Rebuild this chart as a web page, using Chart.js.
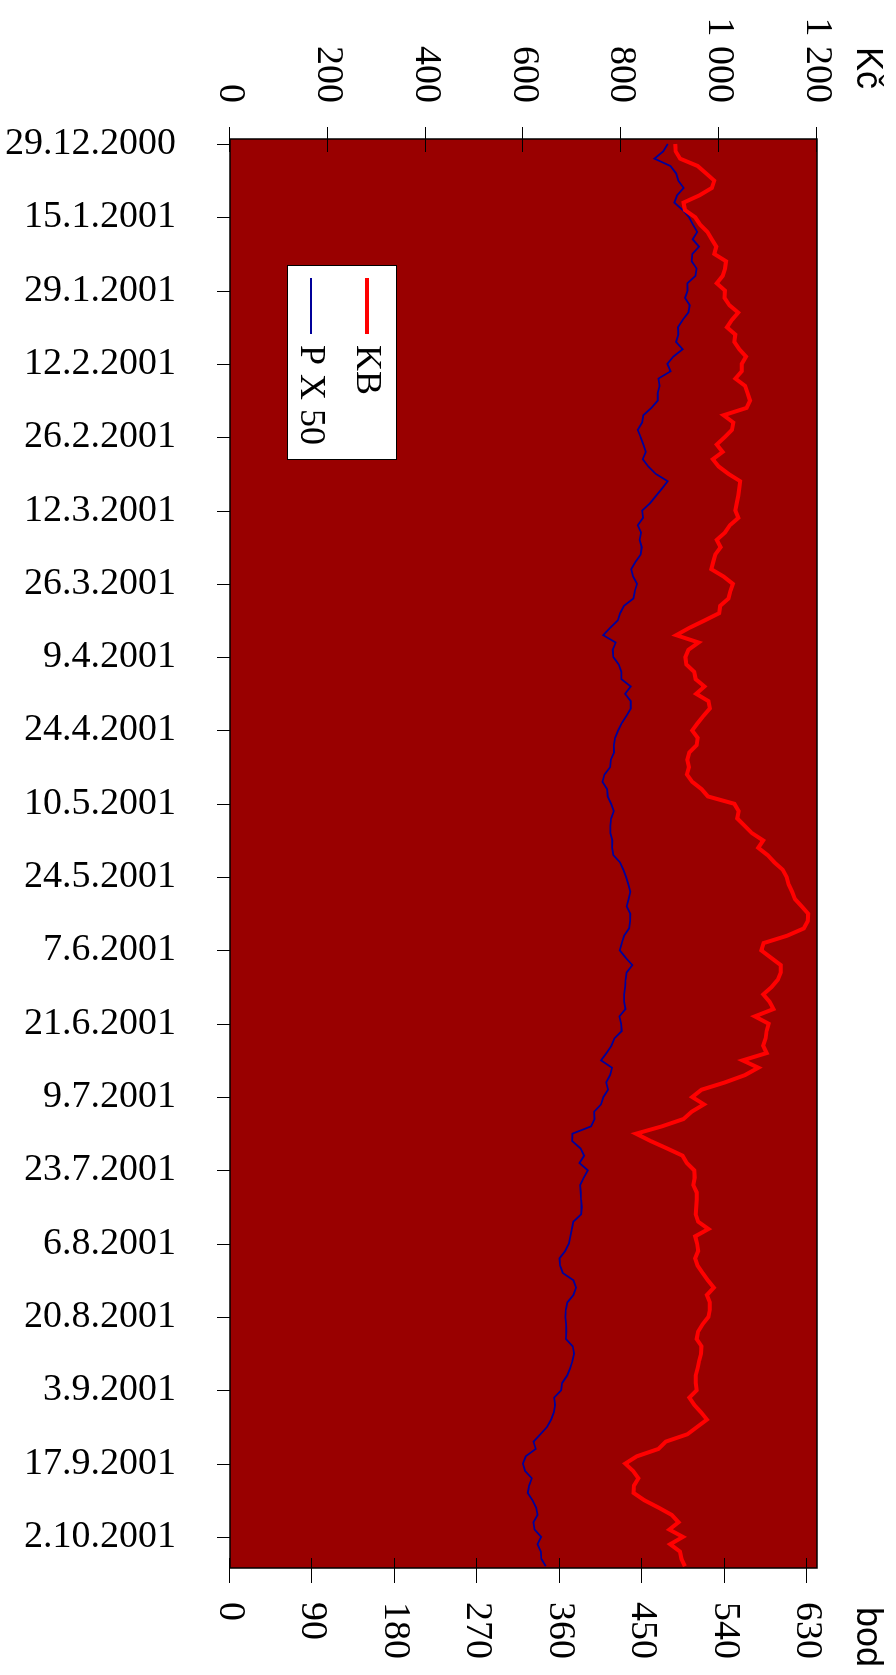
<!DOCTYPE html>
<html lang="cs">
<head>
<meta charset="UTF-8">
<title>KB a PX 50</title>
<script src="https://cdn.jsdelivr.net/npm/chart.js@4.4.1/dist/chart.umd.min.js"></script>
<style>
  html, body { margin: 0; padding: 0; background: #fff; overflow: hidden; }
  body { width: 896px; height: 1675px; position: relative; }
  /* chart is laid out landscape, then turned a quarter turn clockwise */
  #wrap {
    position: absolute; left: 0; top: 0;
    width: 1675px; height: 896px;
    transform-origin: 0 0;
    transform: translate(896px, 0) rotate(90deg);
  }
  canvas { display: block; }
</style>
</head>
<body>
<div id="wrap"><canvas id="chart" width="1675" height="896"></canvas></div>

<script>
  // date under every 10th trading day
  const tickLabels = ['29.12.2000', '15.1.2001', '29.1.2001', '12.2.2001', '26.2.2001',
    '12.3.2001', '26.3.2001', '9.4.2001', '24.4.2001', '10.5.2001', '24.5.2001',
    '7.6.2001', '21.6.2001', '9.7.2001', '23.7.2001', '6.8.2001', '20.8.2001',
    '3.9.2001', '17.9.2001', '2.10.2001'];

  // KB share price, Kc
  const kb = [
    910, 911, 920, 956, 973, 990, 985, 960, 927, 930, 951, 961, 976, 985, 994, 990,
    1014, 1012, 1007, 995, 1012, 1011, 1021, 1039, 1026, 1016, 1033, 1031, 1041, 1055, 1046, 1046,
    1033, 1053, 1058, 1063, 1056, 1009, 1029, 1026, 1011, 995, 1007, 987, 999, 1019, 1043, 1041,
    1039, 1036, 1033, 1039, 1022, 1012, 995, 1003, 992, 988, 984, 1009, 1028, 1023, 1019, 1002,
    1000, 970, 939, 912, 958, 937, 931, 933, 949, 952, 970, 953, 978, 981, 968, 956,
    945, 956, 954, 939, 935, 938, 934, 945, 964, 977, 1031, 1040, 1037, 1052, 1067, 1090,
    1080, 1099, 1113, 1130, 1138, 1142, 1149, 1155, 1169, 1182, 1181, 1173, 1139, 1091, 1086, 1106,
    1126, 1126, 1120, 1107, 1090, 1103, 1111, 1073, 1101, 1097, 1095, 1090, 1097, 1048, 1080, 1053,
    1012, 964, 945, 969, 944, 927, 883, 830, 860, 893, 925, 934, 949, 950, 947, 954,
    954, 953, 952, 957, 978, 951, 955, 957, 951, 956, 966, 977, 989, 975, 981, 981,
    978, 966, 957, 954, 964, 963, 959, 956, 952, 952, 954, 939, 949, 963, 975, 955,
    935, 891, 876, 832, 808, 824, 835, 826, 825, 847, 876, 903, 917, 898, 926, 900,
    920, 923, 930
  ];

  // PX 50 index, points
  const px50 = [
    478.0, 473.2, 463.4, 480.9, 487.1, 489.6, 495.4, 488.2, 485.3, 494.3, 501.3, 505.6, 510.3, 505.3, 512.2, 504.9,
    504.2, 509.6, 508.2, 499.4, 499.8, 496.9, 502.0, 500.5, 494.3, 489.2, 489.6, 487.1, 494.3, 484.2, 477.6, 481.2,
    467.8, 469.2, 467.1, 467.1, 460.2, 451.4, 450.0, 445.2, 448.5, 451.4, 454.0, 450.7, 456.9, 464.9, 478.0, 471.8,
    465.2, 458.7, 450.0, 451.1, 445.2, 448.9, 447.4, 449.6, 448.5, 442.7, 438.0, 440.2, 444.5, 442.0, 440.5, 430.3,
    426.0, 423.4, 415.1, 407.4, 421.2, 418.0, 418.7, 424.5, 427.4, 427.4, 437.6, 431.4, 437.6, 437.6, 432.9, 427.8,
    423.8, 420.5, 419.1, 419.4, 415.8, 415.1, 408.9, 406.7, 411.8, 412.5, 416.1, 419.1, 416.1, 415.4, 415.4, 417.6,
    417.2, 418.7, 426.0, 429.6, 432.5, 435.1, 437.2, 435.4, 433.2, 437.2, 436.9, 435.8, 430.3, 427.8, 425.6, 432.1,
    439.4, 433.2, 432.1, 431.4, 430.3, 430.3, 431.8, 425.2, 427.1, 427.8, 419.8, 416.5, 411.1, 405.2, 417.2, 415.1,
    410.7, 412.9, 407.8, 405.2, 397.6, 398.0, 394.3, 374.0, 373.6, 382.7, 386.7, 381.6, 390.7, 386.3, 382.3, 383.0,
    383.4, 384.1, 383.4, 375.0, 373.2, 371.8, 370.0, 366.0, 359.8, 360.5, 363.4, 375.0, 377.9, 375.0, 368.5, 366.7,
    366.3, 367.0, 367.4, 366.7, 374.3, 375.8, 374.0, 371.4, 368.1, 362.7, 361.6, 354.0, 355.1, 353.6, 350.7, 346.3,
    339.0, 331.4, 333.9, 323.0, 319.8, 322.3, 329.6, 326.7, 325.2, 330.3, 334.3, 335.8, 331.4, 332.5, 339.8, 335.8,
    339.4, 340.1, 344.9
  ];

  const kcTicks = [0, 200, 400, 600, 800, 1000, 1200];
  const bodTicks = [0, 90, 180, 270, 360, 450, 540, 630];

  const serif = 'Liberation Serif';
  const fmt = v => String(v).replace(/\B(?=(\d{3})+(?!\d))/g, ' ');
  const toPoints = arr => arr.map((v, i) => ({ x: i, y: v }));

  // dark red plot area, frame, tick marks, axis units and the boxed legend
  const frame = {
    id: 'frame',
    beforeDraw(chart) {
      const { ctx, chartArea: a } = chart;
      ctx.save();
      ctx.fillStyle = '#990000';
      ctx.fillRect(a.left, a.top, a.right - a.left, a.bottom - a.top);
      ctx.restore();
    },
    afterDraw(chart) {
      const { ctx, chartArea: a, scales } = chart;
      ctx.save();
      ctx.strokeStyle = '#000';
      ctx.lineWidth = 1.5;
      ctx.strokeRect(a.left, a.top, a.right - a.left, a.bottom - a.top);

      ctx.lineWidth = 1;
      ctx.beginPath();
      scales.y.ticks.forEach(t => {
        const p = Math.round(scales.y.getPixelForValue(t.value)) + 0.5;
        ctx.moveTo(a.left - 12, p); ctx.lineTo(a.left + 13, p);
      });
      scales.y1.ticks.forEach(t => {
        const p = Math.round(scales.y1.getPixelForValue(t.value)) + 0.5;
        ctx.moveTo(a.right - 10, p); ctx.lineTo(a.right + 15, p);
      });
      scales.x.ticks.forEach(t => {
        const p = Math.round(scales.x.getPixelForValue(t.value)) + 0.5;
        ctx.moveTo(p, a.bottom); ctx.lineTo(p, a.bottom + 13);
      });
      ctx.stroke();

      // axis units
      ctx.fillStyle = '#000';
      ctx.font = '36px "Liberation Sans"';
      ctx.textAlign = 'left';
      ctx.textBaseline = 'alphabetic';
      ctx.fillText('Kč', 47, 39);
      ctx.fillText('bod', 1607, 39);

      // legend
      const bx = a.left + 126, by = a.bottom - 167, bw = 194, bh = 109;
      ctx.fillStyle = '#fff';
      ctx.fillRect(bx, by, bw, bh);
      ctx.strokeStyle = '#000';
      ctx.lineWidth = 1;
      ctx.strokeRect(bx + 0.5, by + 0.5, bw, bh);
      ctx.font = '36px "' + serif + '"';
      ctx.textBaseline = 'middle';
      chart.data.datasets.forEach((ds, i) => {
        const y = by + 30 + i * 56;
        ctx.strokeStyle = ds.borderColor;
        ctx.lineWidth = ds.borderWidth;
        ctx.beginPath();
        ctx.moveTo(bx + 13, y); ctx.lineTo(bx + 69, y);
        ctx.stroke();
        ctx.fillStyle = '#000';
        ctx.fillText(ds.label, bx + 80, y + 1);
      });
      ctx.restore();
    }
  };

  new Chart(document.getElementById('chart'), {
    type: 'line',
    data: {
      datasets: [
        {
          label: 'KB',
          data: toPoints(kb),
          yAxisID: 'y',
          borderColor: '#ff0000',
          borderWidth: 4,
          pointRadius: 0,
          tension: 0
        },
        {
          label: 'P X 50',
          data: toPoints(px50),
          yAxisID: 'y1',
          borderColor: '#000099',
          borderWidth: 1.8,
          pointRadius: 0,
          tension: 0
        }
      ]
    },
    options: {
      responsive: false,
      animation: false,
      layout: { padding: { top: 79 } },
      plugins: { legend: { display: false }, tooltip: { enabled: false } },
      scales: {
        x: {
          type: 'linear',
          min: -0.68,
          max: 194.24,
          afterBuildTicks: s => { s.ticks = tickLabels.map((_, k) => ({ value: k * 10 })); },
          afterFit: s => { s.height = 230; },
          grid: { display: false, drawTicks: false },
          border: { display: false },
          ticks: {
            autoSkip: false,
            minRotation: 90,
            maxRotation: 90,
            padding: 54,
            color: '#000',
            font: { family: serif, size: 38 },
            callback: v => tickLabels[Math.round(v / 10)]
          }
        },
        y: {
          position: 'left',
          min: 0,
          max: 1200,
          afterBuildTicks: s => { s.ticks = kcTicks.map(v => ({ value: v })); },
          afterFit: s => { s.width = 139; },
          grid: { display: false, drawTicks: false },
          border: { display: false },
          ticks: {
            padding: 36,
            color: '#000',
            font: { family: serif, size: 38 },
            callback: v => fmt(v)
          }
        },
        y1: {
          position: 'right',
          min: 0,
          max: 641,
          afterBuildTicks: s => { s.ticks = bodTicks.map(v => ({ value: v })); },
          afterFit: s => { s.width = 107; },
          grid: { display: false, drawTicks: false },
          border: { display: false },
          ticks: {
            padding: 34,
            color: '#000',
            font: { family: serif, size: 38 },
            callback: v => fmt(v)
          }
        }
      }
    },
    plugins: [frame]
  });
</script>
</body>
</html>
